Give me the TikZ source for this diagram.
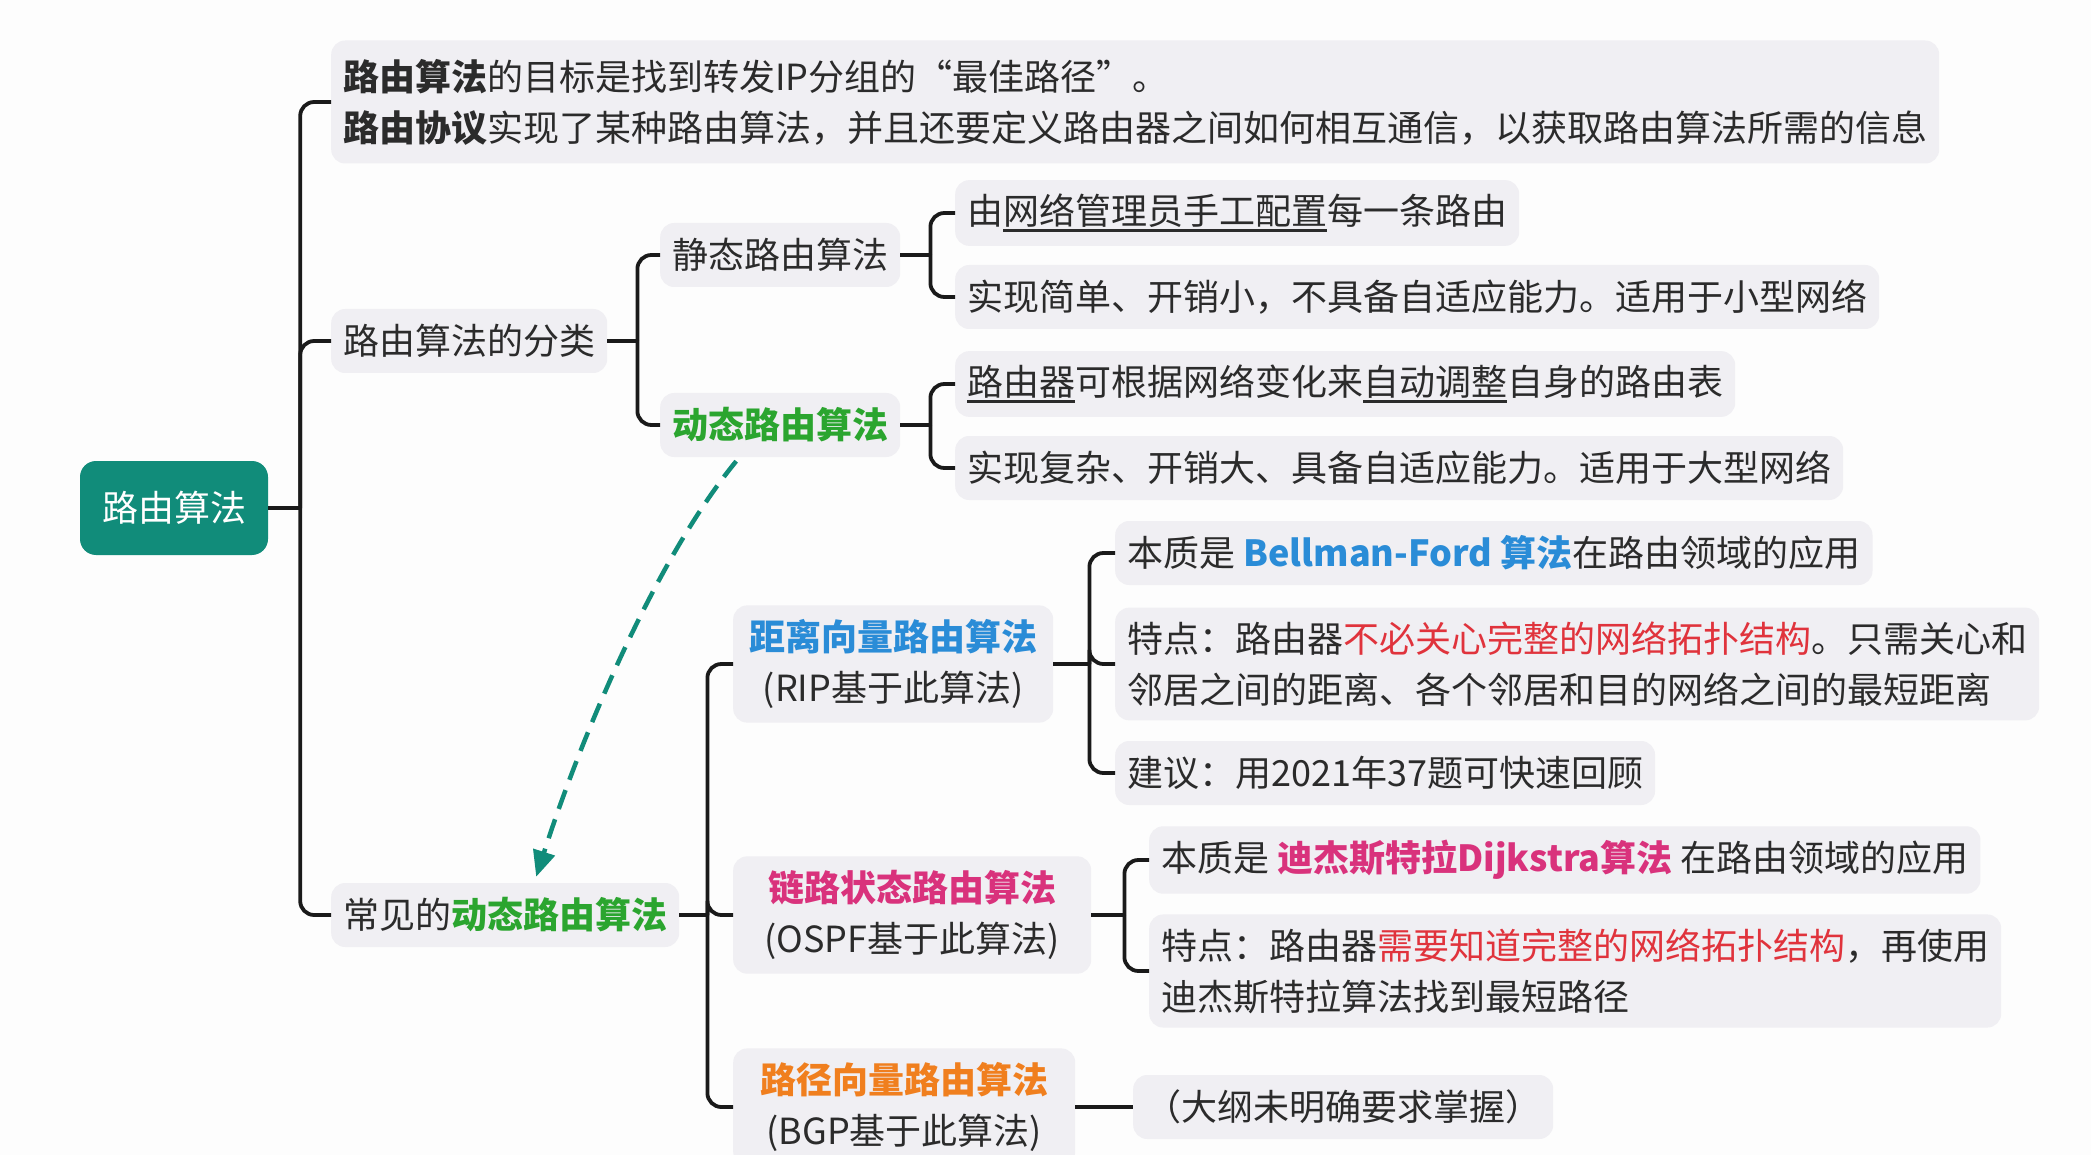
\documentclass[tikz,border=0pt]{standalone}
\usepackage{fontspec}
\setmainfont{Noto Sans CJK SC}
\usetikzlibrary{arrows.meta,calc}
\definecolor{tealc}{HTML}{118C7A}
\definecolor{greenc}{HTML}{2BA52F}
\definecolor{bluec}{HTML}{2A8CD7}
\definecolor{magc}{HTML}{D9327C}
\definecolor{orangec}{HTML}{F07F1E}
\definecolor{redc}{HTML}{E0333C}
\definecolor{txtc}{HTML}{2B2B2B}
\definecolor{boxc}{HTML}{F0EFF3}
\definecolor{linec}{HTML}{1A1A1A}
\definecolor{bgc}{HTML}{FDFDFD}
\newsavebox\ulbox
\newcommand\myul[1]{\sbox\ulbox{#1}\rlap{\rule[-7pt]{\wd\ulbox}{2.4pt}}\usebox\ulbox}
\begin{document}
\begin{tikzpicture}[x=1pt,y=-1pt,
  box/.style={fill=boxc, rounded corners=14pt, inner xsep=12pt, inner ysep=14pt,
    minimum height=64pt, anchor=west, align=left, text=txtc,
    font=\fontsize{36}{51}\selectfont},
  cbox/.style={box, align=center},
  conn/.style={draw=linec, line width=3.8pt, rounded corners=14pt},
]
\fill[bgc] (0,0) rectangle (2091,1155);
\useasboundingbox (0,0) rectangle (2091,1155);
\clip (0,0) rectangle (2091,1155);

% root
\node[fill=tealc, text=white, rounded corners=16pt, minimum width=188pt, minimum height=94pt,
  font=\fontsize{36}{51}\selectfont] (root) at (174,508) {路由算法};

% level 1
\node[box, minimum height=123pt] (n1) at (331,102) {\textbf{路由算法}的目标是找到转发IP分组的“最佳路径”。\\\textbf{路由协议}实现了某种路由算法，并且还要定义路由器之间如何相互通信，以获取路由算法所需的信息};
\node[box] (cls) at (331,341) {路由算法的分类};
\node[box] (common) at (331,915) {常见的\textbf{\color{greenc}动态路由算法}};

% level 2
\node[box] (stat) at (660,255) {静态路由算法};
\node[box] (dyn) at (660,425) {\textbf{\color{greenc}动态路由算法}};

% level 3 (static / dynamic)
\node[box] (s1) at (955,213) {由\myul{网络管理员手工配置}每一条路由};
\node[box] (s2) at (955,297) {实现简单、开销小，不具备自适应能力。适用于小型网络};
\node[box] (d1) at (955,384) {\myul{路由器}可根据网络变化来\myul{自动调整}自身的路由表};
\node[box] (d2) at (955,468) {实现复杂、开销大、具备自适应能力。适用于大型网络};

% common algorithms
\node[cbox, minimum width=320pt] (dv) at (733,664) {\textbf{\color{bluec}距离向量路由算法}\\(RIP基于此算法)};
\node[cbox, minimum width=358pt] (ls) at (733,915) {\textbf{\color{magc}链路状态路由算法}\\(OSPF基于此算法)};
\node[cbox, minimum width=342pt] (pv) at (733,1107) {\textbf{\color{orangec}路径向量路由算法}\\(BGP基于此算法)};

\node[box] (b1) at (1115,553) {本质是 \textbf{\color{bluec}Bellman-Ford 算法}在路由领域的应用};
\node[box] (b2) at (1115,664) {特点：路由器{\color{redc}不必关心完整的网络拓扑结构}。只需关心和\\邻居之间的距离、各个邻居和目的网络之间的最短距离};
\node[box] (b3) at (1115,773) {建议：用2021年37题可快速回顾};

\node[box] (l1) at (1149,860) {本质是 \textbf{\color{magc}迪杰斯特拉Dijkstra算法} 在路由领域的应用};
\node[box] (l2) at (1149,971) {特点：路由器{\color{redc}需要知道完整的网络拓扑结构}，再使用\\迪杰斯特拉算法找到最短路径};

\node[box] (p1) at (1133,1107) {（大纲未明确要求掌握）};

% connectors
\draw[conn] (root.east) -- ++(32,0) coordinate (br0);
\foreach \c in {n1,cls,common} \draw[conn] (br0) |- (\c.west);

\draw[conn] (cls.east) -- ++(30,0) coordinate (br1);
\foreach \c in {stat,dyn} \draw[conn] (br1) |- (\c.west);

\draw[conn] (stat.east) -- ++(30,0) coordinate (br2);
\foreach \c in {s1,s2} \draw[conn] (br2) |- (\c.west);

\draw[conn] (dyn.east) -- ++(30,0) coordinate (br3);
\foreach \c in {d1,d2} \draw[conn] (br3) |- (\c.west);

\draw[conn] (common.east) -- ++(28,0) coordinate (br4);
\foreach \c in {dv,ls,pv} \draw[conn] (br4) |- (\c.west);

\draw[conn] (dv.east) -- ++(36,0) coordinate (br5);
\foreach \c in {b1,b2,b3} \draw[conn] (br5) |- (\c.west);

\draw[conn] (ls.east) -- ++(33,0) coordinate (br6);
\foreach \c in {l1,l2} \draw[conn] (br6) |- (\c.west);

\draw[conn] (pv.east) -- (p1.west);

% dashed reference arrow
\draw[tealc, line width=4.5pt, dash pattern=on 20pt off 11pt,
  -{Triangle[length=26pt,width=22pt]}]
  ($(dyn.south)+(-44,4)$) .. controls (655,560) and (580,740) .. ($(common.north)+(31,-6)$);
\end{tikzpicture}
\end{document}
